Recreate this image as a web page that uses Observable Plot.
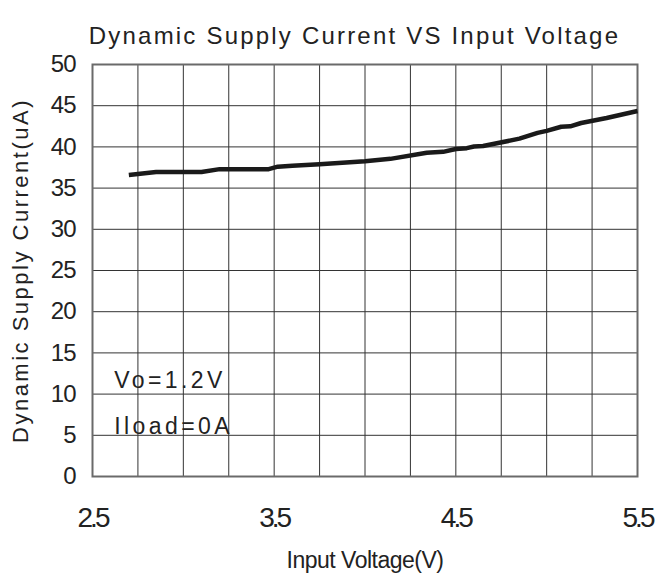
<!DOCTYPE html>
<html>
<head>
<meta charset="utf-8">
<script src="https://cdn.jsdelivr.net/npm/d3@7"></script>
<script src="https://cdn.jsdelivr.net/npm/@observablehq/plot@0.6"></script>
<style>
  html, body { margin: 0; padding: 0; background: #fff; }
  #wrap { width: 659px; height: 579px; overflow: hidden; }
  #title {
    box-sizing: border-box; height: 40px; padding-top: 25px; padding-left: 50px;
    font-family: "Liberation Sans", Arial, sans-serif; font-size: 24px; line-height: 22px;
    letter-spacing: 2.2px; text-align: center; color: #222; white-space: nowrap;
  }
  svg { display: block; }
</style>
</head>
<body>
<div id="wrap">
  <div id="title">Dynamic Supply Current VS Input Voltage</div>
  <div id="chart"></div>
</div>
<script>
// Data
const inputVoltage = [2.7, 2.85, 3.1, 3.2, 3.47, 3.52, 3.6, 3.75, 4.0, 4.14, 4.34, 4.43, 4.5, 4.56, 4.6, 4.65, 4.85, 4.95, 5.0, 5.08, 5.13, 5.19, 5.33, 5.5];
const supplyCurrent = [36.6, 36.95, 36.95, 37.3, 37.3, 37.6, 37.7, 37.9, 38.25, 38.55, 39.3, 39.4, 39.75, 39.85, 40.05, 40.1, 41.0, 41.7, 41.95, 42.45, 42.5, 42.9, 43.5, 44.35];
const xTickLabels = [2.5, 3.5, 4.5, 5.5];
const xGridLines = [2.5, 2.75, 3.0, 3.25, 3.5, 3.75, 4.0, 4.25, 4.5, 4.75, 5.0, 5.25, 5.5];
const yTickLabels = [0, 5, 10, 15, 20, 25, 30, 35, 40, 45, 50];
const noteLabels = ["Vo=1.2V", "Iload=0A"];
const noteX = [2.62, 2.62];
const noteY = [10.8, 5.2];
const xAxisTitle = "Input Voltage(V)";
const yAxisTitle = "Dynamic Supply Current(uA)";

const series = inputVoltage.map((v, i) => ({v, c: supplyCurrent[i]}));
const notes = noteLabels.map((t, i) => ({t, x: noteX[i], y: noteY[i]}));

const font = "'Liberation Sans', Arial, sans-serif";

const chart = Plot.plot({
  width: 659,
  height: 539,
  marginTop: 24,
  marginBottom: 103,
  marginLeft: 92,
  marginRight: 22,
  style: {fontFamily: font, background: "transparent", color: "#222"},
  x: {domain: [2.5, 5.5]},
  y: {domain: [0, 50]},
  marks: [
    Plot.gridX(xGridLines, {stroke: "#333", strokeOpacity: 1, strokeWidth: 1}),
    Plot.gridY(yTickLabels, {stroke: "#333", strokeOpacity: 1, strokeWidth: 1}),
    Plot.frame({stroke: "#6a6a6a", strokeWidth: 2}),
    Plot.axisX(xTickLabels, {tickSize: 0, tickPadding: 31, fontSize: 28, fill: "#222", tickFormat: d => d.toFixed(1), ariaDescription: "xticks"}),
    Plot.axisY(yTickLabels, {tickSize: 0, tickPadding: 17, fontSize: 24, fill: "#222", ariaDescription: "yticks"}),
    Plot.line(series, {x: "v", y: "c", stroke: "#1a1a1a", strokeWidth: 4.5, strokeLinejoin: "round", strokeLinecap: "butt"}),
    Plot.text(notes, {x: "x", y: "y", text: "t", textAnchor: "start", lineAnchor: "bottom", fontSize: 23, fill: "#222", ariaDescription: "notes"}),
    Plot.text([xAxisTitle], {text: d => d, frameAnchor: "bottom", textAnchor: "middle", lineAnchor: "bottom", dy: 91, fontSize: 23, fill: "#222", ariaDescription: "xtitle"}),
    Plot.text([yAxisTitle], {text: d => d, frameAnchor: "left", textAnchor: "middle", lineAnchor: "middle", rotate: -90, dx: -72, fontSize: 22, fill: "#222", ariaDescription: "ytitle"})
  ]
});
document.getElementById("chart").appendChild(chart);

const svg = d3.select(chart);
svg.selectAll('[aria-description="notes"] text').attr("letter-spacing", "3.4px");
svg.selectAll('[aria-description="ytitle"] text').attr("letter-spacing", "2.5px");
svg.selectAll('[aria-description="xticks"] text').attr("letter-spacing", "-3px");
svg.selectAll('[aria-description="xtitle"] text').attr("letter-spacing", "-0.5px");
svg.selectAll('[aria-description="yticks"] text').attr("letter-spacing", "-1px");
</script>
</body>
</html>
